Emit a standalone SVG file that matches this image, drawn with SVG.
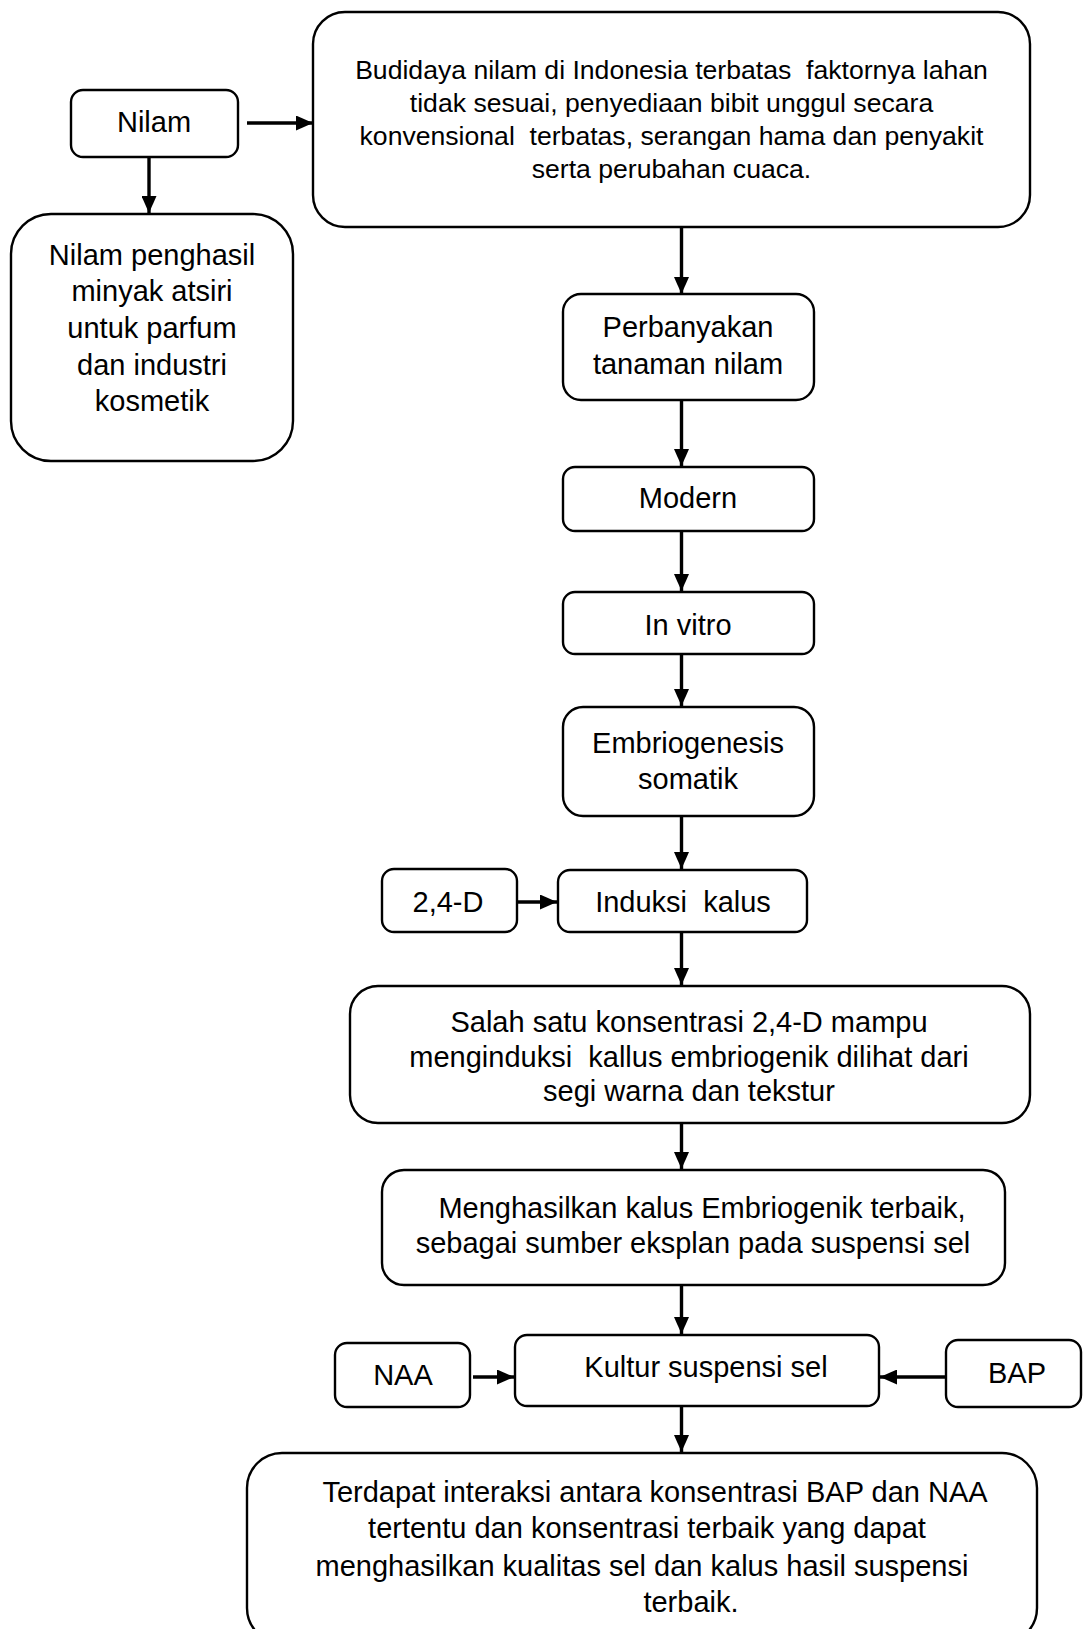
<svg xmlns="http://www.w3.org/2000/svg" width="1083" height="1629" viewBox="0 0 1083 1629">
<style>
.box{fill:#fff;stroke:#000;stroke-width:2.4}
.t{font-family:"Liberation Sans",Arial,sans-serif;font-size:29px;fill:#000;text-anchor:middle;white-space:pre}
.s{font-size:26.6px}
.c{stroke:#000;stroke-width:3.4;fill:none;marker-end:url(#ah)}
</style>
<defs>
<marker id="ah" markerUnits="userSpaceOnUse" markerWidth="17" markerHeight="15" refX="17" refY="7.5" orient="auto">
<path d="M0,0 L17,7.5 L0,15 z" fill="#000"/>
</marker>
</defs>
<rect width="1083" height="1629" fill="#fff"/>
<g id="connectors">
<line class="c" x1="247" y1="123" x2="313" y2="123"/>
<line class="c" x1="149" y1="158" x2="149" y2="213"/>
<line class="c" x1="681.5" y1="227" x2="681.5" y2="294"/>
<line class="c" x1="681.5" y1="400" x2="681.5" y2="466"/>
<line class="c" x1="681.5" y1="531" x2="681.5" y2="591"/>
<line class="c" x1="681.5" y1="654" x2="681.5" y2="706"/>
<line class="c" x1="681.5" y1="816" x2="681.5" y2="869"/>
<line class="c" x1="517" y1="902" x2="557" y2="902"/>
<line class="c" x1="681.5" y1="932" x2="681.5" y2="985"/>
<line class="c" x1="681.5" y1="1123" x2="681.5" y2="1169"/>
<line class="c" x1="681.5" y1="1285" x2="681.5" y2="1334"/>
<line class="c" x1="473" y1="1377" x2="514" y2="1377"/>
<line class="c" x1="946" y1="1377" x2="880" y2="1377"/>
<line class="c" x1="681.5" y1="1406" x2="681.5" y2="1452"/>
</g>
<g id="nilam"><rect class="box" x="71" y="90" width="167" height="67" rx="12"/><text class="t" x="154" y="132">Nilam</text></g>
<g id="penghasil"><rect class="box" x="11" y="214" width="282" height="247" rx="40"/>
<text class="t" x="152" y="265">Nilam penghasil</text>
<text class="t" x="152" y="301">minyak atsiri</text>
<text class="t" x="152" y="338">untuk parfum</text>
<text class="t" x="152" y="375">dan industri</text>
<text class="t" x="152" y="411">kosmetik</text></g>
<g id="budidaya"><rect class="box" x="313" y="12" width="717" height="215" rx="32"/>
<text class="t s" x="671.5" y="79">Budidaya nilam di Indonesia terbatas  faktornya lahan</text>
<text class="t s" x="671.5" y="112">tidak sesuai, penyediaan bibit unggul secara</text>
<text class="t s" x="671.5" y="145">konvensional  terbatas, serangan hama dan penyakit</text>
<text class="t s" x="671.5" y="178">serta perubahan cuaca.</text></g>
<g id="perbanyakan"><rect class="box" x="563" y="294" width="251" height="106" rx="18"/>
<text class="t" x="688" y="337">Perbanyakan</text>
<text class="t" x="688" y="374">tanaman nilam</text></g>
<g id="modern"><rect class="box" x="563" y="467" width="251" height="64" rx="12"/><text class="t" x="688" y="508">Modern</text></g>
<g id="invitro"><rect class="box" x="563" y="592" width="251" height="62" rx="12"/><text class="t" x="688" y="635">In vitro</text></g>
<g id="embriogenesis"><rect class="box" x="563" y="707" width="251" height="109" rx="20"/>
<text class="t" x="688" y="753">Embriogenesis</text>
<text class="t" x="688" y="789">somatik</text></g>
<g id="d24"><rect class="box" x="382" y="869" width="135" height="63" rx="12"/><text class="t" x="448" y="912">2,4-D</text></g>
<g id="induksi"><rect class="box" x="558" y="870" width="249" height="62" rx="12"/><text class="t" x="683" y="912">Induksi  kalus</text></g>
<g id="salah"><rect class="box" x="350" y="986" width="680" height="137" rx="28"/>
<text class="t" x="689" y="1032">Salah satu konsentrasi 2,4-D mampu</text>
<text class="t" x="689" y="1067">menginduksi  kallus embriogenik dilihat dari</text>
<text class="t" x="689" y="1101">segi warna dan tekstur</text></g>
<g id="menghasilkan"><rect class="box" x="382" y="1170" width="623" height="115" rx="22"/>
<text class="t" x="702" y="1218">Menghasilkan kalus Embriogenik terbaik,</text>
<text class="t" x="693" y="1253">sebagai sumber eksplan pada suspensi sel</text></g>
<g id="naa"><rect class="box" x="335" y="1343" width="135" height="64" rx="12"/><text class="t" x="403" y="1385">NAA</text></g>
<g id="kultur"><rect class="box" x="515" y="1335" width="364" height="71" rx="12"/><text class="t" x="706" y="1377">Kultur suspensi sel</text></g>
<g id="bap"><rect class="box" x="946" y="1340" width="135" height="67" rx="12"/><text class="t" x="1017" y="1383">BAP</text></g>
<g id="terdapat"><rect class="box" x="247" y="1453" width="790" height="190" rx="35"/>
<text class="t" x="655" y="1502">Terdapat interaksi antara konsentrasi BAP dan NAA</text>
<text class="t" x="647" y="1538">tertentu dan konsentrasi terbaik yang dapat</text>
<text class="t" x="642" y="1576">menghasilkan kualitas sel dan kalus hasil suspensi</text>
<text class="t" x="691" y="1612">terbaik.</text></g>
</svg>
